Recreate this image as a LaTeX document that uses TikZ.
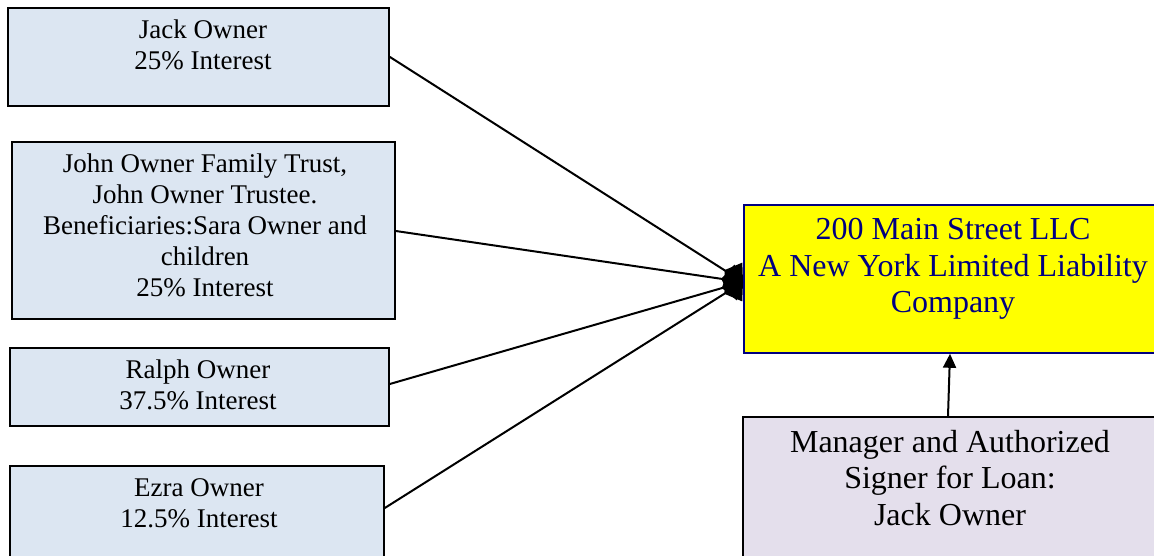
\documentclass[tikz,border=0pt]{standalone}
\usepackage{fontspec}
\setmainfont{Liberation Serif}
\usetikzlibrary{arrows.meta,calc}
\definecolor{ownerblue}{HTML}{DCE6F2}
\definecolor{llcyellow}{HTML}{FFFF00}
\definecolor{llcnavy}{HTML}{000080}
\definecolor{mgrlav}{HTML}{E4DFEC}
\begin{document}
\begin{tikzpicture}[x=1pt,y=-1pt,
  ownerbox/.style={draw=black,line width=1.8pt,fill=ownerblue,anchor=north west,inner sep=0pt},
  smalltxt/.style={align=center,inner sep=0pt,font=\fontsize{27}{31}\selectfont},
  bigtxt/.style={align=center,inner sep=0pt,font=\fontsize{32}{36.5}\selectfont},
  link/.style={line width=2pt,-{Diamond[length=22pt,width=32pt]}},
  uplink/.style={line width=2pt,-{Triangle[length=14pt,width=13pt]}}]
\useasboundingbox (0,0) rectangle (1154,555);
\begin{scope}
\clip (0,0) rectangle (1154,555);
% owner boxes
\node[ownerbox,minimum width=381pt,minimum height=98pt] (b1) at (7,7) {};
\node[ownerbox,minimum width=383pt,minimum height=177pt] (b2) at (11,141) {};
\node[ownerbox,minimum width=379pt,minimum height=78pt] (b3) at (9,347) {};
\node[ownerbox,minimum width=374pt,minimum height=110pt] (b4) at (9,465) {};
% LLC and manager
\node[draw=llcnavy,line width=1.8pt,fill=llcyellow,anchor=north west,inner sep=0pt,
  minimum width=416pt,minimum height=148pt] (llc) at (743,204) {};
\node[draw=black,line width=1.8pt,fill=mgrlav,anchor=north west,inner sep=0pt,
  minimum width=416pt,minimum height=160pt] (mgr) at (742,416) {};
% texts
\node[smalltxt] (t1) at (203,45) {Jack Owner\\25\% Interest};
\node[smalltxt] (t2) at (205,225) {John Owner Family Trust,\\John Owner Trustee.\\Beneficiaries:Sara Owner and\\children\\25\% Interest};
\node[smalltxt] (t3) at (198,385) {Ralph Owner\\37.5\% Interest};
\node[smalltxt] (t4) at (199,503) {Ezra Owner\\12.5\% Interest};
\node[bigtxt,text=llcnavy] (tl) at (953,269) {200 Main Street LLC\\A New York Limited Liability\\Company};
\node[bigtxt] (tm) at (950,478) {Manager and Authorized\\Signer for Loan:\\Jack Owner};
% connectors
\coordinate (hub) at ($(llc.north west)+(0,78)$);
\draw[link] (b1.east) -- (hub);
\draw[link] ($(b2.north east)+(0,90)$) -- (hub);
\draw[link] ($(b3.north east)+(0,37)$) -- (hub);
\draw[link] ($(b4.north east)+(0,43)$) -- (hub);
\draw[uplink] ($(mgr.north west)+(206,0)$) -- ($(llc.south west)+(207,0)$);
\end{scope}
\end{tikzpicture}
\end{document}
